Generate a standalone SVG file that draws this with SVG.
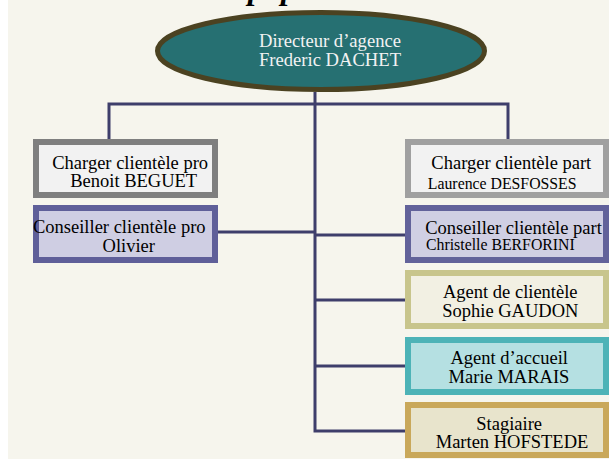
<svg xmlns="http://www.w3.org/2000/svg" width="609" height="459" viewBox="0 0 609 459">
<style>
  .t { font-family: "Liberation Serif", "Times New Roman", serif; fill: #000; text-anchor: middle; }
  .big { font-size: 18.5px; }
  .small { font-size: 15.8px; }
  .head { font-family: "Liberation Serif", "Times New Roman", serif; font-size: 18.6px; fill: #F2F2F2; text-anchor: middle; }
  .title { font-family: "Liberation Serif", "Times New Roman", serif; font-size: 32px; font-weight: bold; font-style: italic; fill: #000; }
  .box { stroke-width: 6; }
  .conn { fill: none; stroke: #3E3E6B; stroke-width: 3; }
</style>
<rect x="0" y="0" width="609" height="459" fill="#FFFFFF"/>
<rect x="8" y="0" width="601" height="459" fill="#F6F5ED"/>
<text class="title" x="248" y="-1">p</text>
<text class="title" x="281" y="-1">p</text>
<g id="connectors">
  <path class="conn" d="M315 92 V431 H408"/>
  <path class="conn" d="M109 139 V104 H508 V139"/>
  <path class="conn" d="M218 232 H315"/>
  <path class="conn" d="M315 235 H408"/>
  <path class="conn" d="M315 300 H408"/>
  <path class="conn" d="M315 366 H408"/>
</g>
<g id="directeur">
  <ellipse cx="321" cy="51" rx="163.5" ry="38.5" fill="#267072" stroke="#4B4221" stroke-width="5"/>
  <text class="head" x="330" y="47">Directeur d’agence</text>
  <text class="head" x="330" y="66">Frederic DACHET</text>
</g>
<g id="charger-pro">
  <rect class="box" x="36" y="142" width="179" height="53" fill="#F2F2F2" stroke="#7F7F7F"/>
  <text class="t big" x="130.2" y="169.3">Charger clientèle pro</text>
  <text class="t big" x="133.7" y="187.3">Benoit BEGUET</text>
</g>
<g id="conseiller-pro">
  <rect class="box" x="36" y="208" width="179" height="52" fill="#CFCEE3" stroke="#5F5F99"/>
  <text class="t big" x="119.3" y="233.3">Conseiller clientèle pro</text>
  <text class="t big" x="128.8" y="251.7">Olivier</text>
</g>
<g id="charger-part">
  <rect class="box" x="408" y="142" width="198" height="53" fill="#F2F2F2" stroke="#A0A0A0"/>
  <text class="t big" x="511.3" y="169">Charger clientèle part</text>
  <text class="t small" x="502.2" y="189.3">Laurence DESFOSSES</text>
</g>
<g id="conseiller-part">
  <rect class="box" x="408" y="208" width="198" height="52" fill="#D0CFE3" stroke="#62629A"/>
  <text class="t big" x="513.5" y="234">Conseiller clientèle part</text>
  <text class="t small" x="500.4" y="250">Christelle BERFORINI</text>
</g>
<g id="agent-clientele">
  <rect class="box" x="408" y="273" width="198" height="53" fill="#F2F0E3" stroke="#C8C58C"/>
  <text class="t big" x="510.3" y="298.3">Agent de clientèle</text>
  <text class="t big" x="510.3" y="317.3">Sophie GAUDON</text>
</g>
<g id="agent-accueil">
  <rect class="box" x="408" y="340" width="198" height="52" fill="#B5E0E2" stroke="#4DB3B7"/>
  <text class="t big" x="509.2" y="364.3">Agent d’accueil</text>
  <text class="t big" x="509" y="382.7">Marie MARAIS</text>
</g>
<g id="stagiaire">
  <rect class="box" x="408" y="405" width="198" height="50" fill="#E8E4CC" stroke="#C9A85A"/>
  <text class="t big" x="509.2" y="430">Stagiaire</text>
  <text class="t big" x="512" y="448.3">Marten HOFSTEDE</text>
</g>
</svg>
